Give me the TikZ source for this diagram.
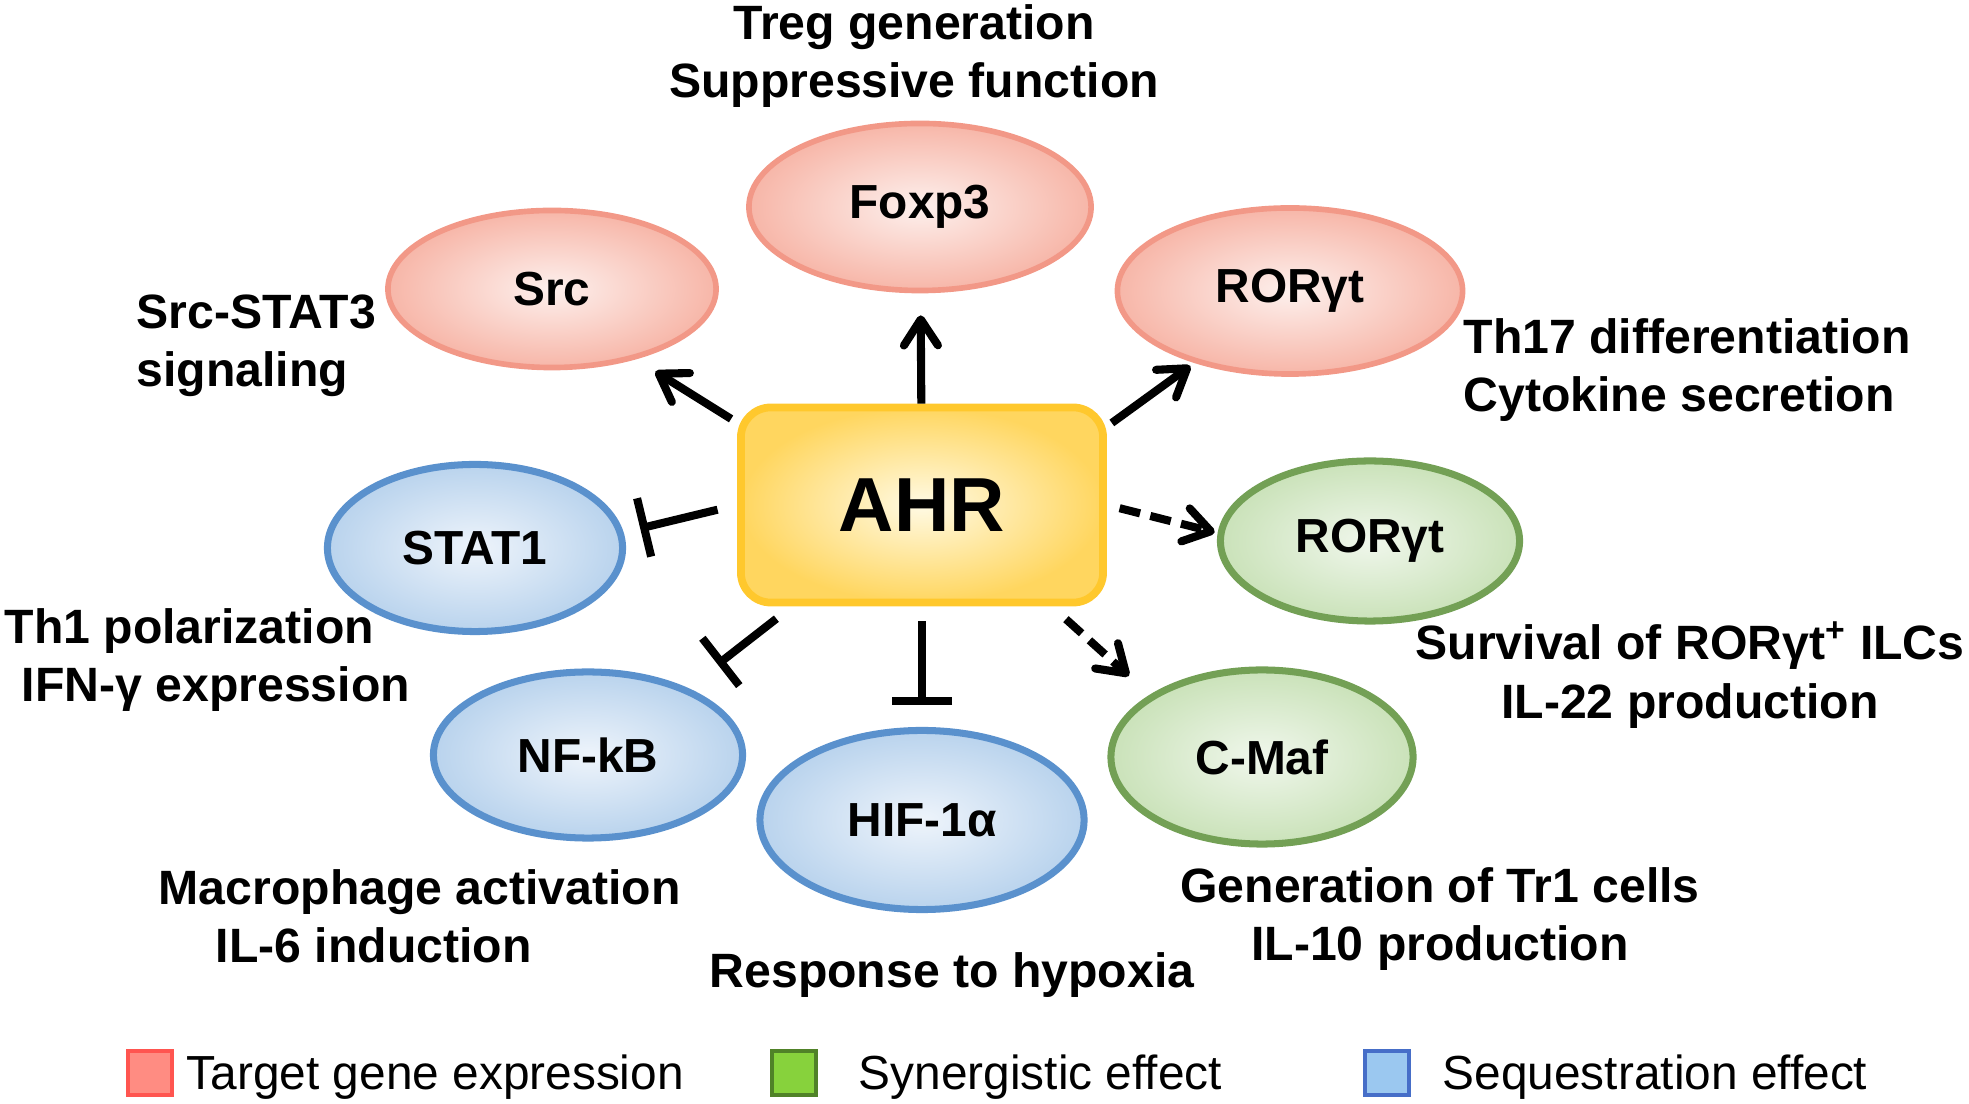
\documentclass[tikz,border=0pt]{standalone}
\usepackage{fontspec}
\setmainfont{Liberation Sans}
\usetikzlibrary{shapes.geometric,arrows.meta}

\definecolor{ahrLine}{RGB}{255,200,45}
\definecolor{ahrIn}{RGB}{255,250,228}
\definecolor{ahrOut}{RGB}{255,214,95}
\definecolor{tgtLine}{RGB}{242,152,135}
\definecolor{tgtIn}{RGB}{253,240,237}
\definecolor{tgtOut}{RGB}{247,182,168}
\definecolor{synLine}{RGB}{115,160,85}
\definecolor{synIn}{RGB}{240,247,236}
\definecolor{synOut}{RGB}{202,226,185}
\definecolor{seqLine}{RGB}{90,145,205}
\definecolor{seqIn}{RGB}{238,244,251}
\definecolor{seqOut}{RGB}{185,211,237}
\definecolor{keyT}{RGB}{255,140,130}
\definecolor{keyTline}{RGB}{255,85,80}
\definecolor{keyS}{RGB}{135,210,60}
\definecolor{keySline}{RGB}{80,130,40}
\definecolor{keyQ}{RGB}{155,200,240}
\definecolor{keyQline}{RGB}{70,110,200}

\begin{document}
\begin{tikzpicture}[
        x=0.01cm, y=-0.01cm,
        hub/.style={rectangle, rounded corners=0.3cm, draw=ahrLine, line width=2.2pt, inner color=ahrIn, outer color=ahrOut, minimum width=3.62cm, minimum height=1.95cm, font=\fontsize{21.8}{26}\selectfont\bfseries},
        nodeT/.style={ellipse, draw=tgtLine, line width=1.6pt, inner color=tgtIn, outer color=tgtOut, inner sep=0pt, font=\fontsize{13.6}{15}\selectfont\bfseries},
        nodeS/.style={ellipse, draw=synLine, line width=2pt, inner color=synIn, outer color=synOut, inner sep=0pt, font=\fontsize{13.6}{15}\selectfont\bfseries},
        nodeQ/.style={ellipse, draw=seqLine, line width=2pt, inner color=seqIn, outer color=seqOut, inner sep=0pt, font=\fontsize{13.6}{15}\selectfont\bfseries},
        note/.style={inner sep=0pt, align=center, font=\fontsize{13.7}{16.6}\selectfont\bfseries},
        key/.style={rectangle, line width=1.2pt, minimum size=0.44cm, inner sep=0pt},
        keytext/.style={anchor=base west, inner sep=0pt, font=\fontsize{13.6}{16}\selectfont},
        edge/.style={black, line width=2.3pt, -{Straight Barb[length=0.26cm, width=0.34cm, round]}},
        edgeD/.style={edge, dash pattern=on 6pt off 3pt},
        edgeI/.style={black, line width=2.3pt, -{Bar[width=0.6cm]}}
    ]
        \useasboundingbox (0,0) rectangle (1969,1104);

        % AHR
        \node[hub] (ahr) at (922,505) {AHR};

        % Target gene expression
        \node[nodeT, minimum width=3.28cm, minimum height=1.57cm] (src) at (552,289) {Src};
        \node[nodeT, minimum width=3.42cm, minimum height=1.67cm] (foxp3) at (920,207) {Foxp3};
        \node[nodeT, minimum width=3.45cm, minimum height=1.66cm] (rorr) at (1290,291) {RORγt};

        % Synergistic effect
        \node[nodeS, minimum width=2.99cm, minimum height=1.60cm] (rorg) at (1370,541) {RORγt};
        \node[nodeS, minimum width=3.02cm, minimum height=1.74cm] (cmaf) at (1262,757) {C-Maf};

        % Sequestration effect
        \node[nodeQ, minimum width=2.95cm, minimum height=1.67cm] (stat1) at (475,548) {STAT1};
        \node[nodeQ, minimum width=3.09cm, minimum height=1.66cm] (nfkb) at (588,755) {NF-kB};
        \node[nodeQ, minimum width=3.24cm, minimum height=1.79cm] (hif) at (922,820) {HIF-1α};

        % Aristas
        \draw[edge, shorten >=0.22cm] (ahr) -- (foxp3);
        \draw[edge, shorten <=0.07cm, shorten >=0.23cm] (ahr.156) -- (src.-40);
        \draw[edge, shorten <=0.06cm, shorten >=0.05cm] (ahr.23) -- (rorr.217);
        \draw[edgeD, shorten <=0.13cm, shorten >=0.03cm] (ahr.east) -- (rorg.177);
        \draw[edgeD, shorten <=0.19cm, shorten >=0.28cm] (ahr.-38) -- (cmaf.151);
        \draw[edgeI, shorten <=0.2cm, shorten >=0.17cm] (ahr.west) -- (stat1.6);
        \draw[edgeI, shorten <=0.2cm, shorten >=0.38cm] (ahr.218) -- (nfkb.34);
        \draw[edgeI, shorten <=0.15cm, shorten >=0.22cm] (ahr) -- (hif);

        % Efectos
        \node[note] (treg) at (914,56) {Treg generation\\Suppressive function};
        \node[note, align=left, anchor=west] (srcsig) at (136,346) {Src-STAT3\\signaling};
        \node[note, align=left, anchor=west] (th17) at (1463,370) {Th17 differentiation\\Cytokine secretion};
        \node[note, align=left, anchor=west] (th1) at (4,660) {Th1 polarization\\\hspace*{0.17cm}IFN-γ expression};
        \node[note] (ilc) at (1690,675) {Survival of RORγt\textsuperscript{+} ILCs\\IL-22 production};
        \node[note, align=left, anchor=west] (macro) at (158,916) {Macrophage activation\\\hspace*{0.57cm}IL-6 induction};
        \node[note] (tr1) at (1440,919) {Generation of Tr1 cells\\IL-10 production};
        \node[note] (hypoxia) at (952,975) {Response to hypoxia};

        % Leyenda
        \node[key, fill=keyT, draw=keyTline] (keyt) at (150,1073) {};
        \node[keytext] (keyttext) at (186,1090) {Target gene expression};
        \node[key, fill=keyS, draw=keySline] (keys) at (794,1073) {};
        \node[keytext] (keystext) at (858,1090) {Synergistic effect};
        \node[key, fill=keyQ, draw=keyQline] (keyq) at (1387,1073) {};
        \node[keytext] (keyqtext) at (1442,1090) {Sequestration effect};
    \end{tikzpicture}
\end{document}
